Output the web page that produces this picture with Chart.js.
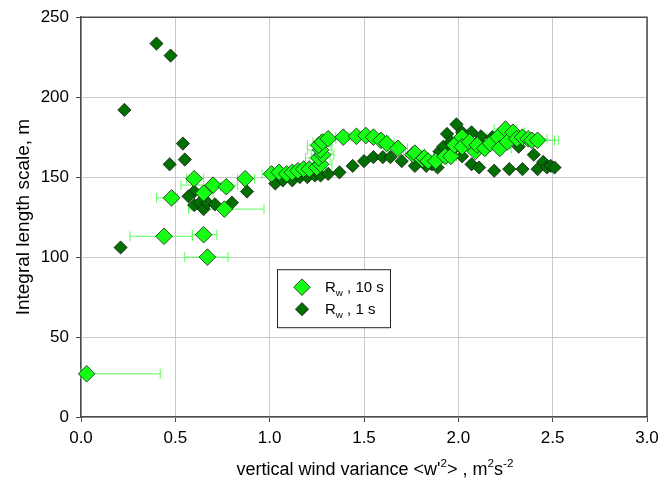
<!DOCTYPE html>
<html>
<head>
<meta charset="utf-8">
<script src="https://cdn.jsdelivr.net/npm/chart.js@4.4.0/dist/chart.umd.min.js"></script>
<style>
  html, body { margin: 0; padding: 0; background: #fff; }
  #wrap { width: 670px; height: 483px; }
</style>
</head>
<body>
<div id="wrap"><canvas id="scaleChart"></canvas></div>
<script>
// R_w, 10 s  (light green, with horizontal error bars)
const x10 = [0.03, 0.44, 0.65, 0.67, 0.48, 0.60, 0.70, 0.65, 0.77, 0.76, 0.87, 1.01,
             1.05, 1.09, 1.12, 1.15, 1.18, 1.21, 1.25, 1.27, 1.26, 1.28, 1.27, 1.26, 1.28, 1.31,
             1.39, 1.46, 1.51, 1.55, 1.59, 1.62, 1.68, 1.76, 1.77, 1.81, 1.82, 1.84, 1.88, 1.93,
             1.96, 1.98, 2.02, 2.02, 2.06, 2.09, 2.10, 2.14, 2.17, 2.21, 2.22, 2.25, 2.26, 2.29,
             2.31, 2.34, 2.37, 2.39, 2.42];
const y10 = [27, 113, 114, 100, 137, 149, 145, 140, 144, 130, 149, 152,
             153, 152, 153, 154, 155, 155, 156, 158, 162, 164, 167, 170, 172, 174,
             175, 175.5, 176, 175, 173, 171, 168, 164, 165, 161, 162, 160, 160, 163,
             163, 170, 175, 169, 172, 166, 170, 168, 171, 175, 168, 180, 172, 178,
             174, 175, 174, 173, 173];
const lo10 = [0.00, 0.26, 0.59, 0.55, 0.40, 0.56, 0.53, 0.60, 0.74, 0.57, 0.83, 0.96,
              1.00, 1.05, 1.08, 1.11, 1.14, 1.17, 1.20, 1.21, 1.19, 1.22, 1.20, 1.20, 1.23, 1.27,
              1.35, 1.42, 1.47, 1.51, 1.55, 1.58, 1.63, 1.71, 1.72, 1.76, 1.77, 1.78, 1.82, 1.87,
              1.90, 1.92, 1.97, 1.96, 2.00, 2.03, 2.04, 2.08, 2.11, 2.15, 2.16, 2.19, 2.20, 2.23,
              2.25, 2.28, 2.31, 2.33, 2.36];
const hi10 = [0.42, 0.59, 0.72, 0.78, 0.51, 0.65, 0.83, 0.70, 0.80, 0.97, 0.92, 1.05,
              1.09, 1.13, 1.16, 1.19, 1.22, 1.25, 1.30, 1.33, 1.32, 1.34, 1.33, 1.32, 1.33, 1.35,
              1.43, 1.50, 1.55, 1.59, 1.63, 1.66, 1.73, 1.81, 1.82, 1.86, 1.87, 1.90, 1.94, 1.99,
              2.02, 2.04, 2.07, 2.08, 2.12, 2.15, 2.16, 2.20, 2.23, 2.27, 2.28, 2.31, 2.32, 2.35,
              2.37, 2.42, 2.47, 2.51, 2.53];

// R_w, 1 s  (dark green)
const x1 = [0.21, 0.23, 0.40, 0.475, 0.54, 0.55, 0.47, 0.60, 0.57, 0.60, 0.63, 0.65, 0.67, 0.71,
            0.80, 0.88, 1.03, 1.07, 1.12, 1.16, 1.20, 1.24, 1.27, 1.31, 1.37, 1.44, 1.50, 1.55,
            1.60, 1.64, 1.70, 1.77, 1.83, 1.86, 1.89, 1.90, 1.92, 1.94, 1.96, 1.97, 1.99, 2.02,
            2.02, 2.07, 2.07, 2.11, 2.12, 2.15, 2.18, 2.19, 2.22, 2.26, 2.27, 2.27, 2.32, 2.34,
            2.40, 2.42, 2.45, 2.47, 2.49, 2.51];
const y1 = [106, 192, 233.5, 226, 171, 161, 158, 141, 138, 132.5, 134, 130, 134, 133,
            134, 141, 146, 148, 148, 150, 150, 151, 151, 152, 153, 157, 160, 162.5,
            162.5, 162.5, 160, 157, 157, 158, 156, 166, 169, 177, 172, 167, 183, 178,
            163, 178, 158, 156, 175.5, 168.5, 175, 154, 177, 173.5, 155, 178, 169, 155,
            164, 155, 159.5, 156, 157, 156];

const xTicks = [0, 0.5, 1.0, 1.5, 2.0, 2.5, 3.0];
const yTicks = [0, 50, 100, 150, 200, 250];

const seriesNames = ['10 s', '1 s'];
const seriesColors = ['#14ff14', '#007000'];
const seriesRadius = [8.3, 6.6];

const FONT = 'Liberation Sans, Arial, sans-serif';

function drawRich(ctx, parts, x, y, size, align) {
    // parts: [text, shift] shift 1 = superscript, -1 = subscript
    let total = 0;
    parts.forEach(p => {
        ctx.font = (p[1] ? size * 0.65 : size) + 'px ' + FONT;
        total += ctx.measureText(p[0]).width;
    });
    let cx = align === 'center' ? x - total / 2 : x;
    ctx.textAlign = 'left';
    ctx.textBaseline = 'alphabetic';
    parts.forEach(p => {
        ctx.font = (p[1] ? size * 0.65 : size) + 'px ' + FONT;
        let dy = p[1] === 1 ? -size * 0.42 : (p[1] === -1 ? size * 0.25 : 0);
        ctx.fillText(p[0], cx, y + dy);
        cx += ctx.measureText(p[0]).width;
    });
}

const errorBars = {
    id: 'errorBars',
    beforeDatasetsDraw(chart) {
        const ctx = chart.ctx;
        const xs = chart.scales.x, ys = chart.scales.y;
        const area = chart.chartArea;
        ctx.save();
        // top and right frame
        ctx.strokeStyle = '#4a4a4a';
        ctx.lineWidth = 1.5;
        ctx.beginPath();
        ctx.moveTo(area.left, area.top);
        ctx.lineTo(area.right, area.top);
        ctx.lineTo(area.right, area.bottom);
        ctx.stroke();

        ctx.strokeStyle = '#5cff5c';
        ctx.lineWidth = 1;
        for (let i = 0; i < x10.length; i++) {
            const py = ys.getPixelForValue(y10[i]);
            const a = xs.getPixelForValue(lo10[i]);
            const b = xs.getPixelForValue(hi10[i]);
            ctx.beginPath();
            ctx.moveTo(a, py); ctx.lineTo(b, py);
            ctx.moveTo(a, py - 5); ctx.lineTo(a, py + 5);
            ctx.moveTo(b, py - 5); ctx.lineTo(b, py + 5);
            ctx.stroke();
        }
        ctx.restore();
    },
    afterDraw(chart) {
        const ctx = chart.ctx;
        const area = chart.chartArea;
        ctx.save();
        ctx.fillStyle = '#000';
        // x axis title with superscripts
        drawRich(ctx, [["vertical wind variance <w'", 0], ['2', 1], ['> , m', 0], ['2', 1], ['s', 0], ['-2', 1]],
            (area.left + area.right) / 2 + 11, area.bottom + 58, 18, 'center');

        // legend box
        const lx = area.left + 196, ly = area.top + 252;
        ctx.fillStyle = '#fff';
        ctx.fillRect(lx, ly, 113, 58);
        ctx.strokeStyle = '#222';
        ctx.lineWidth = 1;
        ctx.strokeRect(lx + 0.5, ly + 0.5, 113, 58);
        seriesNames.forEach((name, i) => {
            const cy = ly + 18 + i * 22;
            ctx.fillStyle = seriesColors[i];
            ctx.strokeStyle = '#1a1a1a';
            ctx.lineWidth = 0.8;
            Chart.helpers.drawPoint(ctx, { pointStyle: 'rectRot', radius: seriesRadius[i], borderWidth: 0.8 }, lx + 25, cy);
            ctx.fillStyle = '#000';
            drawRich(ctx, [['R', 0], ['w', -1], [' , ' + name, 0]], lx + 48, cy + 5, 15, 'left');
        });
        ctx.restore();
    }
};

const ctx = document.getElementById('scaleChart').getContext('2d');
new Chart(ctx, {
    type: 'scatter',
    data: {
        datasets: [{
            label: 'R_w, 10 s',
            data: x10.map((v, i) => ({ x: v, y: y10[i] })),
            backgroundColor: seriesColors[0],
            borderColor: '#1a1a1a',
            borderWidth: 0.8,
            pointStyle: 'rectRot',
            pointRadius: seriesRadius[0],
            clip: false
        }, {
            label: 'R_w, 1 s',
            data: x1.map((v, i) => ({ x: v, y: y1[i] })),
            backgroundColor: seriesColors[1],
            borderColor: '#1a1a1a',
            borderWidth: 0.8,
            pointStyle: 'rectRot',
            pointRadius: seriesRadius[1],
            clip: false
        }]
    },
    options: {
        responsive: true,
        maintainAspectRatio: false,
        animation: false,
        layout: { padding: { left: 0, top: 11, right: 23, bottom: 0 } },
        plugins: {
            legend: { display: false },
            tooltip: { enabled: false }
        },
        scales: {
            x: {
                type: 'linear',
                min: 0,
                max: 3,
                afterBuildTicks: s => { s.ticks = xTicks.map(v => ({ value: v })); },
                afterFit: s => { s.height = 66; },
                ticks: {
                    color: '#000',
                    font: { family: FONT, size: 17 },
                    padding: 6,
                    callback: v => v.toFixed(1)
                },
                grid: { color: '#c8c8c8', lineWidth: 1, tickLength: 5, tickColor: '#4a4a4a' },
                border: { color: '#4a4a4a', width: 1.5 }
            },
            y: {
                type: 'linear',
                min: 0,
                max: 250,
                afterBuildTicks: s => { s.ticks = yTicks.map(v => ({ value: v })); },
                afterFit: s => { s.width = 81; },
                ticks: {
                    color: '#000',
                    font: { family: FONT, size: 17 },
                    padding: 7
                },
                grid: { color: '#c8c8c8', lineWidth: 1, tickLength: 5, tickColor: '#4a4a4a' },
                border: { color: '#4a4a4a', width: 1.5 },
                title: {
                    display: true,
                    text: 'Integral length scale, m',
                    color: '#000',
                    font: { family: FONT, size: 19 },
                    padding: { top: 12, bottom: 0 }
                }
            }
        }
    },
    plugins: [errorBars]
});
</script>
</body>
</html>
